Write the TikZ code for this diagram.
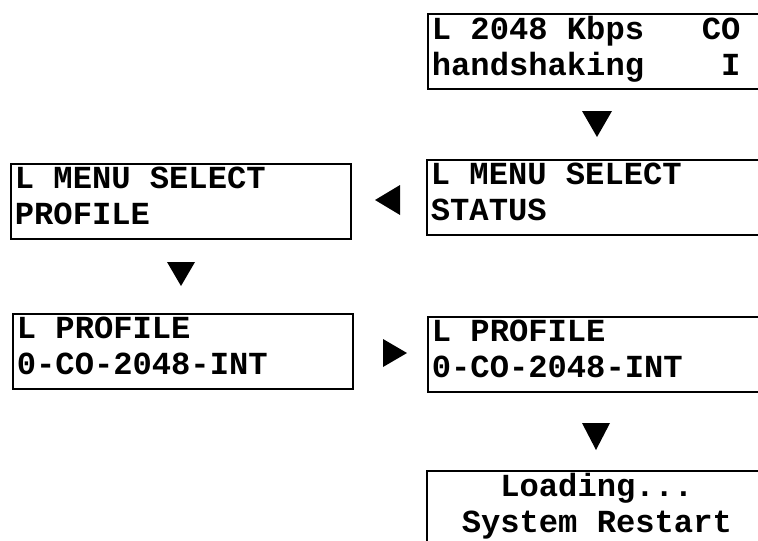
\documentclass[tikz,border=0pt]{standalone}
\usepackage{fontspec}
\setmonofont{Liberation Mono}
\usepackage{tikz}
\usetikzlibrary{positioning}

% one fixed cell per blank, as on the display
\newcommand{\gap}{\hspace*{0.6em}}
\newcommand{\lcdface}{\ttfamily\bfseries\fontsize{18.3}{20.5}\selectfont}

\tikzset{
	lcd/.style={draw, line width=1pt, anchor=north west, inner xsep=0.08cm, inner ysep=0pt,
		minimum width=6.8cm, minimum height=1.5cm, text width=6.64cm, align=left,
		font=\lcdface},
	lcdmid/.style={lcd, align=center}
}

\begin{document}
\begin{tikzpicture}[x=0.02cm, y=-0.02cm]
\useasboundingbox (0,0) rectangle (758,541);
\clip (0,0) rectangle (758,541);
% display screens
\node[lcd] (link) at (427,13) {L\gap 2048\gap Kbps\gap\gap\gap CO\\handshaking\gap\gap\gap\gap I\strut};
\node[lcd] (status) at (426,159) {L\gap MENU\gap SELECT\\STATUS\strut};
\node[lcd] (menu) at (10,163) {L\gap MENU\gap SELECT\\PROFILE\strut};
\node[lcd] (pick) at (12,313) {L\gap PROFILE\\0-CO-2048-INT\strut};
\node[lcd] (prof) at (427,316) {L\gap PROFILE\\0-CO-2048-INT\strut};
\node[lcdmid] (boot) at (426,470) {Loading...\\System\gap Restart\strut};
% key arrows
\fill (582,111) -- (612,111) -- (597,137) -- cycle;
\fill (400,185) -- (400,215) -- (375,200) -- cycle;
\fill (167,262) -- (195,262) -- (181,286) -- cycle;
\fill (383,339) -- (383,367) -- (407,353) -- cycle;
\fill (582,423) -- (610,423) -- (596,450) -- cycle;
\end{tikzpicture}
\end{document}
